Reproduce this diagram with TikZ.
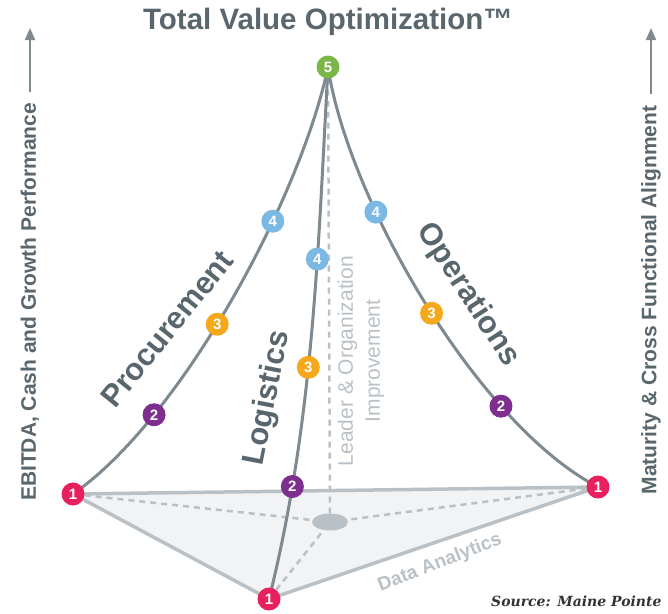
\documentclass[tikz,border=0pt]{standalone}
\usepackage{fontspec}
\setmainfont{Liberation Sans}
\newfontfamily\sourcefont{DejaVu Serif}
\usetikzlibrary{backgrounds,arrows.meta,shapes.geometric}
\definecolor{slate}{HTML}{5A666E}
\definecolor{ridgegray}{HTML}{7E8990}
\definecolor{basegray}{HTML}{B9C1C7}
\definecolor{basefill}{HTML}{F1F3F5}
\definecolor{lvlone}{HTML}{E8215E}
\definecolor{lvltwo}{HTML}{7D2E8E}
\definecolor{lvlthree}{HTML}{F6A81C}
\definecolor{lvlfour}{HTML}{7CB8E4}
\definecolor{lvlfive}{HTML}{7AB648}

\begin{document}
\begin{tikzpicture}[x=1pt,y=-1pt,
    badge/.style={circle,inner sep=0pt,minimum size=23pt,text=white,
      font=\fontsize{15}{15}\selectfont\bfseries},
    one/.style={badge,fill=lvlone},
    two/.style={badge,fill=lvltwo},
    three/.style={badge,fill=lvlthree},
    four/.style={badge,fill=lvlfour},
    five/.style={badge,fill=lvlfive},
    ridge/.style={draw=ridgegray,line width=3pt},
    rim/.style={draw=basegray,line width=3.5pt,line join=round},
    guide/.style={draw=basegray,line width=2.5pt,dash pattern=on 6pt off 5pt},
    side/.style={text=slate,font=\fontsize{31}{31}\selectfont\bfseries},
    axislabel/.style={text=slate,font=\fontsize{21}{21}\selectfont\bfseries},
    faint/.style={text=basegray,font=\fontsize{21}{27}\selectfont},
    pointer/.style={draw=ridgegray,line width=2pt,-{Triangle[length=12pt,width=10pt]}}]
  \useasboundingbox (0,0) rectangle (668,613);

  % title and axes
  \node[text=slate,font=\fontsize{29.5}{30}\selectfont\bfseries] (title) at (328,22) {Total Value Optimization™};
  \node[axislabel,rotate=90] (ebitda) at (30,302) {EBITDA, Cash and Growth Performance};
  \node[axislabel,rotate=90] (maturity) at (651,300) {Maturity \& Cross Functional Alignment};
  \coordinate (ebitdatip) at (30,28);
  \coordinate (maturitytip) at (651,28);
  \draw[pointer,shorten <=8pt] (ebitda) -- (ebitdatip);
  \draw[pointer,shorten <=8pt] (maturity) -- (maturitytip);

  % corners of the pyramid
  \node[one] (L1) at (73,494) {1};
  \node[one] (R1) at (598,487) {1};
  \node[one] (B1) at (269,599) {1};
  \node[five] (T5) at (328,67) {5};
  \node[ellipse,fill=basegray,minimum width=36pt,minimum height=17pt,inner sep=0pt] (hub) at (330,522) {};

  \begin{scope}[on background layer]
    % base
    \fill[basefill] (L1.center) -- (R1.center) -- (B1.center) -- cycle;
    \draw[guide] (L1) -- (hub);
    \draw[guide] (R1) -- (hub);
    \draw[guide] (B1) -- (hub);
    \draw[guide] (T5) -- (hub);
    \draw[rim] (L1.center) -- (R1.center) -- (B1.center) -- cycle;
    % the three ridges
    \draw[ridge] (L1.center) .. controls (180,420) and (300,200) .. (T5.center)
      node[two,pos=0.25] (proc2) {2}
      node[three,pos=0.455] (proc3) {3}
      node[four,pos=0.665] (proc4) {4};
    \draw[ridge] (B1.center) .. controls (314,419) and (318,247) .. (T5.center)
      node[two,pos=0.21] (logi2) {2}
      node[three,pos=0.435] (logi3) {3}
      node[four,pos=0.64] (logi4) {4};
    \draw[ridge] (R1.center) .. controls (478,425) and (348,200) .. (T5.center)
      node[two,pos=0.27] (oper2) {2}
      node[three,pos=0.48] (oper3) {3}
      node[four,pos=0.685] (oper4) {4};
  \end{scope}

  % labels
  \node[side,rotate=51] (procurement) at (167,329) {Procurement};
  \node[side,rotate=79] (logistics) at (268,398) {Logistics};
  \node[side,rotate=-57] (operations) at (468,295) {Operations};
  \node[faint,rotate=90,align=center] (leader) at (361,361) {Leader \& Organization\\Improvement};
  \node[text=basegray,font=\fontsize{19}{19}\selectfont\bfseries,rotate=21] (analytics) at (440,563) {Data Analytics};
  \node[anchor=east,text=black!80,font=\sourcefont\bfseries\itshape\fontsize{14}{14}\selectfont] (source) at (665,601) {Source: Maine Pointe};
\end{tikzpicture}
\end{document}
